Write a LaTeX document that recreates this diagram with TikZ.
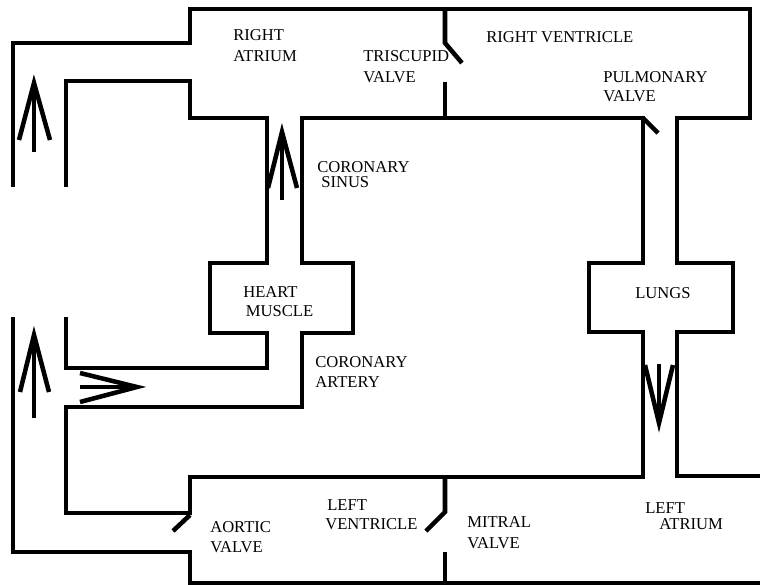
\documentclass[tikz,border=0pt]{standalone}
\usepackage{fontspec}
\setmainfont{Liberation Serif}
\begin{document}
\begin{tikzpicture}[x=0.75pt,y=-0.75pt,
  wall/.style={line width=3.4pt, line join=miter, line cap=butt},
  flow/.style={line width=3.4pt, line join=miter, line cap=butt},
  lbl/.style={anchor=north west, inner sep=0pt, align=left, font=\fontsize{12.45}{15}\selectfont}]
\useasboundingbox (0,0) rectangle (760,585);
\fill[white] (0,0) rectangle (760,585);
\clip (0,0) rectangle (760,585);
% outer upper wall
\draw[wall] (13,187) -- (13,43) -- (190,43) -- (190,9) -- (750,9) -- (750,118) -- (677,118)
  -- (677,263) -- (733,263) -- (733,332) -- (677,332) -- (677,476) -- (770,476);
% inner upper wall
\draw[wall] (66,187) -- (66,81) -- (190,81) -- (190,118) -- (267,118) -- (267,263) -- (210,263)
  -- (210,333) -- (267,333) -- (267,368) -- (66,368) -- (66,317);
% central block
\draw[wall] (643,263) -- (643,118) -- (302,118) -- (302,263) -- (353,263) -- (353,333) -- (302,333)
  -- (302,407) -- (66,407) -- (66,513) -- (190,513) -- (190,477) -- (643,477) -- (643,332)
  -- (589,332) -- (589,263) -- cycle;
% outer lower wall
\draw[wall] (13,317) -- (13,552) -- (190,552) -- (190,583) -- (770,583);
% tricuspid valve
\draw[wall] (445,9) -- (445,43) -- (462,63);
\draw[wall] (445,82) -- (445,118);
% pulmonary valve
\draw[wall] (643,118) -- (658,133);
% aortic valve
\draw[wall] (190,515) -- (173,531);
% mitral valve
\draw[wall] (445,477) -- (445,512) -- (426,531);
\draw[wall] (445,552) -- (445,583);
% flow arrows
\draw[flow] (34,152) -- (34,83);
\draw[flow] (19,140) -- (34,83) -- (50,140);
\draw[flow] (282,200) -- (282,132);
\draw[flow] (268,188) -- (282,132) -- (297,188);
\draw[flow] (34,418) -- (34,335);
\draw[flow] (20,392) -- (34,335) -- (49,392);
\draw[flow] (80,387) -- (137,387);
\draw[flow] (80,373) -- (137,387) -- (80,402);
\draw[flow] (659,364) -- (659,423);
\draw[flow] (645,365) -- (659,423) -- (673,365);
% labels
\node[lbl, font=\fontsize{12.45}{15.75}\selectfont] (ra) at (233,29.5) {RIGHT\\ATRIUM};
\node[lbl, font=\fontsize{12.45}{15.75}\selectfont] (tv) at (363,50) {TRISCUPID\\VALVE};
\node[lbl] (rv) at (486,31.5) {RIGHT VENTRICLE};
\node[lbl, font=\fontsize{12.45}{14.25}\selectfont] (pv) at (603,71) {PULMONARY\\VALVE};
\node[lbl, font=\fontsize{12.45}{11.25}\selectfont] (cs) at (317,161) {CORONARY\\\hspace*{3pt}SINUS};
\node[lbl, font=\fontsize{12.45}{14.25}\selectfont] (hm) at (243,286) {HEART\\\hspace*{2pt}MUSCLE};
\node[lbl, font=\fontsize{12.45}{15}\selectfont] (ca) at (315,356) {CORONARY\\ARTERY};
\node[lbl] (lu) at (635,287.5) {LUNGS};
\node[lbl, font=\fontsize{12.45}{15.4}\selectfont] (av) at (210,521) {AORTIC\\VALVE};
\node[lbl, font=\fontsize{12.45}{14.25}\selectfont] (lv) at (325,499) {\hspace*{1.5pt}LEFT\\VENTRICLE};
\node[lbl, font=\fontsize{12.45}{16.1}\selectfont] (mv) at (467,516) {MITRAL\\VALVE};
\node[lbl, font=\fontsize{12.45}{11.6}\selectfont] (la) at (645,502.5) {LEFT\\\hspace*{10.5pt}ATRIUM};
\end{tikzpicture}
\end{document}
